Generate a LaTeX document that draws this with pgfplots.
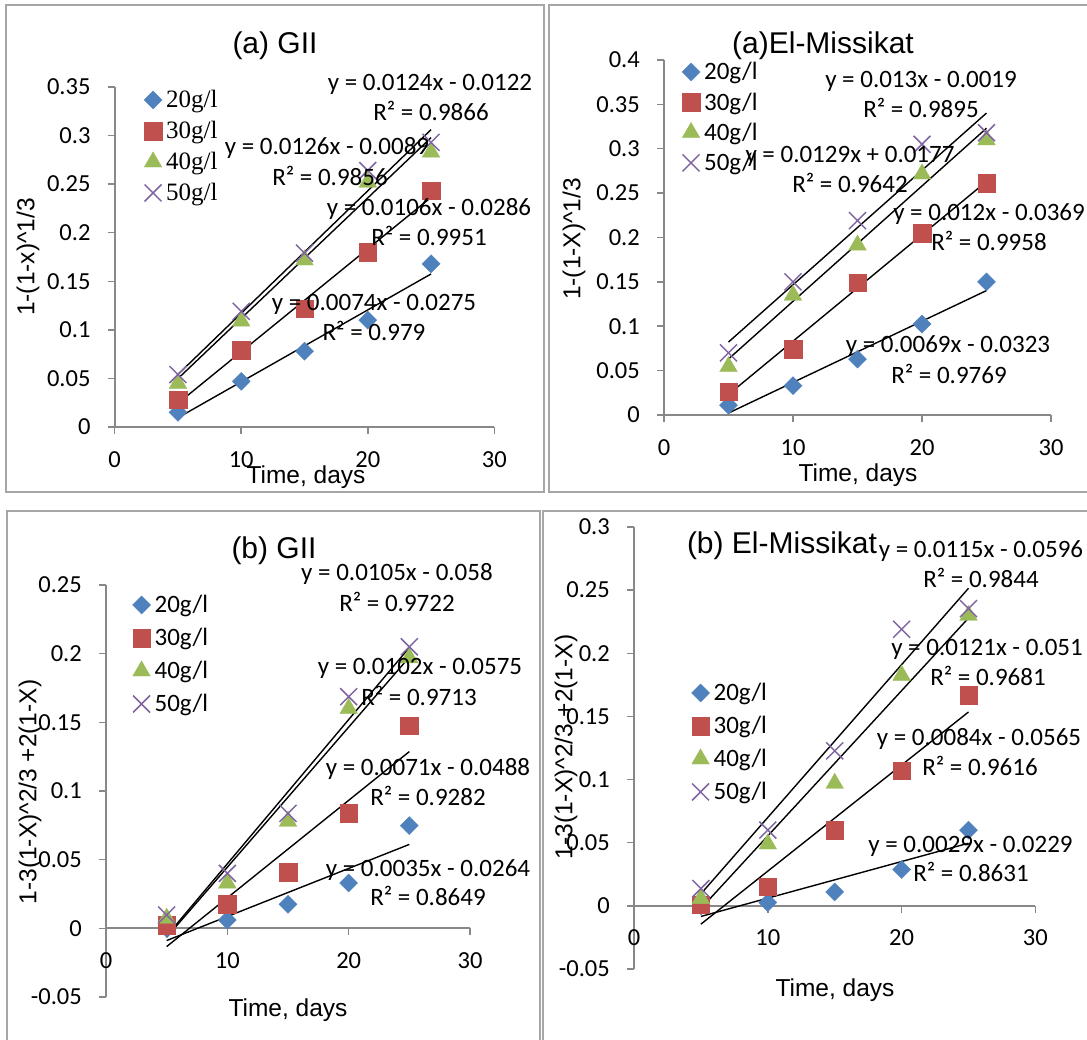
\documentclass[border=0pt]{standalone}
\usepackage{fontspec}
\setmainfont{Liberation Sans}
\newfontfamily\calf{Carlito}
\newfontfamily\tnr{Liberation Serif}
\usepackage{pgfplots}
\pgfplotsset{compat=1.18}
\definecolor{cblue}{HTML}{4F81BD}
\definecolor{cred}{HTML}{C0504D}
\definecolor{cgreen}{HTML}{9BBB59}
\definecolor{cpurple}{HTML}{8064A2}
\definecolor{axgray}{HTML}{888888}
\definecolor{frgray}{HTML}{A6A6A6}
\newcommand\eqf{\fontsize{25}{30}\calf}
\newcommand\ttf{\fontsize{30}{36}\selectfont}
\newcommand\laf{\fontsize{24.5}{29}\selectfont}
\pgfplotsset{
  panel/.style={
    scale only axis, clip=false,
    axis x line=middle, axis y line=left,
    axis line style={-, draw=axgray, line width=1.8pt},
    tick style={draw=axgray, line width=1.5pt},
    tick align=outside, major tick length=7pt,
    hide obscured x ticks=false, hide obscured y ticks=false,
    xmin=0, xmax=30, xtick={0,10,20,30}, xticklabels={0,10,20,30},
    ticklabel style={font=\fontsize{24.5}{29}\calf},
    xticklabel style={anchor=north, inner sep=0pt, yshift=-17pt},
    yticklabel style={anchor=east, inner sep=0pt, xshift=-17pt},
    legend cell align=left,
    legend image code/.code={\draw[##1] plot coordinates {(0pt,0pt)};},
    legend style={draw=none, fill=none, anchor=north west, inner sep=0pt, outer sep=0pt,
      column sep=4pt},
  },
  s20/.style={only marks, mark=square*, mark size=6.4pt, mark options={rotate=45, fill=cblue, draw=cblue, line width=0.3pt}},
  s30/.style={only marks, mark=square*, mark size=8.7pt, mark options={fill=cred, draw=cred, line width=0.3pt}},
  s40/.style={only marks, mark=triangle*, mark size=10.2pt, mark options={fill=cgreen, draw=cgreen, line width=0.3pt}},
  s50/.style={only marks, mark=x, mark size=12pt, mark options={draw=cpurple, line width=1.5pt}},
  trend/.style={black, line width=1.4pt, forget plot, no markers},
}
\begin{document}
\begin{tikzpicture}
\useasboundingbox (0,0) rectangle (1087pt,1040pt);
% panel frames
\draw[frgray, line width=1.6pt] (6pt,1035pt) rectangle (544pt,548pt);
\draw[frgray, line width=1.6pt] (549pt,1035pt) rectangle (1092pt,548pt);
\draw[frgray, line width=1.6pt] (7pt,529pt) rectangle (540pt,-8pt);
\draw[frgray, line width=1.6pt] (543pt,529pt) rectangle (1092pt,-8pt);

% ---------- Panel (a) GII ----------
\begin{axis}[panel, at={(114.7pt,613pt)}, anchor=south west, width=379.6pt, height=340pt,
  ymin=0, ymax=0.35, ytick={0,0.05,0.1,0.15,0.2,0.25,0.3,0.35},
  yticklabels={0,0.05,0.1,0.15,0.2,0.25,0.3,0.35},
  legend style={at={(0.0772,1.0074)}, font=\fontsize{25}{30}\tnr,
    nodes={inner sep=0pt, text height=23.4pt, text depth=7.6pt}}]
\addplot[s20] coordinates {(5,0.015)(10,0.047)(15,0.078)(20,0.110)(25,0.168)};
\addlegendentry{20g/l}
\addplot[s30] coordinates {(5,0.028)(10,0.079)(15,0.122)(20,0.180)(25,0.243)};
\addlegendentry{30g/l}
\addplot[s40] coordinates {(5,0.045)(10,0.109)(15,0.172)(20,0.252)(25,0.283)};
\addlegendentry{40g/l}
\addplot[s50] coordinates {(5,0.054)(10,0.119)(15,0.179)(20,0.264)(25,0.293)};
\addlegendentry{50g/l}
\addplot[trend] coordinates {(5,0.0095)(25,0.1575)};
\addplot[trend] coordinates {(5,0.0244)(25,0.2364)};
\addplot[trend] coordinates {(5,0.0498)(25,0.2978)};
\addplot[trend] coordinates {(5,0.0541)(25,0.3061)};
\end{axis}

% ---------- Panel (a) El-Missikat ----------
\begin{axis}[panel, at={(664pt,625pt)}, anchor=south west, width=387pt, height=355pt,
  ymin=0, ymax=0.4, ytick={0,0.05,0.1,0.15,0.2,0.25,0.3,0.35,0.4},
  yticklabels={0,0.05,0.1,0.15,0.2,0.25,0.3,0.35,0.4},
  legend style={at={(0.0465,1.0089)}, font=\fontsize{25}{30}\calf,
    nodes={inner sep=0pt, text height=23pt, text depth=7.3pt}}]
\addplot[s20] coordinates {(5,0.011)(10,0.033)(15,0.063)(20,0.1025)(25,0.150)};
\addlegendentry{20g/l}
\addplot[s30] coordinates {(5,0.026)(10,0.074)(15,0.149)(20,0.205)(25,0.261)};
\addlegendentry{30g/l}
\addplot[s40] coordinates {(5,0.0545)(10,0.135)(15,0.1915)(20,0.2716)(25,0.310)};
\addlegendentry{40g/l}
\addplot[s50] coordinates {(5,0.070)(10,0.150)(15,0.219)(20,0.305)(25,0.318)};
\addlegendentry{50g/l}
\addplot[trend] coordinates {(5,0.0022)(25,0.1402)};
\addplot[trend] coordinates {(5,0.0231)(25,0.2631)};
\addplot[trend] coordinates {(5,0.0631)(25,0.3231)};
\addplot[trend] coordinates {(5,0.0822)(25,0.3402)};
\end{axis}

% ---------- Panel (b) GII ----------
\begin{axis}[panel, at={(106pt,43pt)}, anchor=south west, width=364pt, height=412pt,
  ymin=-0.05, ymax=0.25, ytick={-0.05,0,0.05,0.1,0.15,0.2,0.25},
  yticklabels={-0.05,0,0.05,0.1,0.15,0.2,0.25},
  legend style={at={(0.0728,0.9915)}, font=\fontsize{25}{30}\calf,
    nodes={inner sep=0pt, text height=24.4pt, text depth=8.6pt}}]
\addplot[s20] coordinates {(5,0.0)(10,0.006)(15,0.0175)(20,0.033)(25,0.0748)};
\addlegendentry{20g/l}
\addplot[s30] coordinates {(5,0.0024)(10,0.0175)(15,0.041)(20,0.084)(25,0.1476)};
\addlegendentry{30g/l}
\addplot[s40] coordinates {(5,0.0073)(10,0.033)(15,0.078)(20,0.160)(25,0.197)};
\addlegendentry{40g/l}
\addplot[s50] coordinates {(5,0.0097)(10,0.040)(15,0.0837)(20,0.1687)(25,0.205)};
\addlegendentry{50g/l}
\addplot[trend] coordinates {(5,-0.0089)(25,0.0611)};
\addplot[trend] coordinates {(5,-0.0133)(25,0.1287)};
\addplot[trend] coordinates {(5,-0.0065)(25,0.1975)};
\addplot[trend] coordinates {(5,-0.0055)(25,0.2045)};
\end{axis}

% ---------- Panel (b) El-Missikat ----------
\begin{axis}[panel, at={(634pt,71pt)}, anchor=south west, width=401.4pt, height=442pt,
  ymin=-0.05, ymax=0.3, ytick={-0.05,0,0.05,0.1,0.15,0.2,0.25,0.3},
  yticklabels={-0.05,0,0.05,0.1,0.15,0.2,0.25,0.3},
  legend style={at={(0.1432,0.6618)}, font=\fontsize{25}{30}\calf,
    nodes={inner sep=0pt, text height=24.4pt, text depth=8.6pt}}]
\addplot[s20] coordinates {(5,0.0)(10,0.0026)(15,0.011)(20,0.0288)(25,0.060)};
\addlegendentry{20g/l}
\addplot[s30] coordinates {(5,0.001)(10,0.015)(15,0.060)(20,0.107)(25,0.1667)};
\addlegendentry{30g/l}
\addplot[s40] coordinates {(5,0.0058)(10,0.049)(15,0.097)(20,0.1826)(25,0.230)};
\addlegendentry{40g/l}
\addplot[s50] coordinates {(5,0.0137)(10,0.060)(15,0.1227)(20,0.219)(25,0.2354)};
\addlegendentry{50g/l}
\addplot[trend] coordinates {(5,-0.0084)(25,0.0496)};
\addplot[trend] coordinates {(5,-0.0145)(25,0.1535)};
\addplot[trend] coordinates {(5,-0.0021)(25,0.2279)};
\addplot[trend] coordinates {(5,0.0095)(25,0.2515)};
\end{axis}

% ---------- texts panel 1 ----------
\node[anchor=base, font=\ttf, inner sep=0pt] at (275pt,986pt) {(a) GII};
\node[anchor=base, font=\laf, inner sep=0pt] at (306pt,556pt) {Time, days};
\node[rotate=90, font=\laf, inner sep=0pt] at (28pt,783pt) {1-(1-x)\textasciicircum 1/3};
\begin{scope}[every node/.style={anchor=base, font=\eqf, inner sep=0pt}]
\node at (430pt,949pt) {y = 0.0124x - 0.0122};
\node at (431pt,919pt) {R² = 0.9866};
\node at (327pt,885pt) {y = 0.0126x - 0.0089};
\node at (330pt,854pt) {R² = 0.9856};
\node at (429pt,824pt) {y = 0.0106x - 0.0286};
\node at (429pt,794pt) {R² = 0.9951};
\node at (374pt,729pt) {y = 0.0074x - 0.0275};
\node at (374pt,699pt) {R² = 0.979};
\end{scope}

% ---------- texts panel 2 ----------
\node[anchor=base, font=\ttf, inner sep=0pt] at (823pt,986pt) {(a)El-Missikat};
\node[anchor=base, font=\laf, inner sep=0pt] at (858pt,558pt) {Time, days};
\node[rotate=90, font=\laf, inner sep=0pt] at (574pt,801pt) {1-(1-X)\textasciicircum 1/3};
\begin{scope}[every node/.style={anchor=base, font=\eqf, inner sep=0pt}]
\node at (921pt,952pt) {y = 0.013x - 0.0019};
\node at (921pt,922pt) {R² = 0.9895};
\node at (850pt,877pt) {y = 0.0129x + 0.0177};
\node at (850pt,847pt) {R² = 0.9642};
\node at (989pt,819pt) {y = 0.012x - 0.0369};
\node at (989pt,789pt) {R² = 0.9958};
\node at (948pt,687pt) {y = 0.0069x - 0.0323};
\node at (949pt,656pt) {R² = 0.9769};
\end{scope}

% ---------- texts panel 3 ----------
\node[anchor=base, font=\ttf, inner sep=0pt] at (274pt,481pt) {(b) GII};
\node[anchor=base, font=\laf, inner sep=0pt] at (288pt,23pt) {Time, days};
\node[rotate=90, font=\laf, inner sep=0pt] at (30pt,248pt) {1-3(1-X)\textasciicircum 2/3 +2(1-X)};
\begin{scope}[every node/.style={anchor=base, font=\eqf, inner sep=0pt}]
\node at (397pt,459pt) {y = 0.0105x - 0.058};
\node at (397pt,428pt) {R² = 0.9722};
\node at (420pt,365pt) {y = 0.0102x - 0.0575};
\node at (419pt,334pt) {R² = 0.9713};
\node at (428pt,264pt) {y = 0.0071x - 0.0488};
\node at (428pt,234pt) {R² = 0.9282};
\node at (428pt,163pt) {y = 0.0035x - 0.0264};
\node at (428pt,134pt) {R² = 0.8649};
\end{scope}

% ---------- texts panel 4 ----------
\node[anchor=base, font=\ttf, inner sep=0pt] at (782pt,486pt) {(b) El-Missikat};
\node[anchor=base, font=\laf, inner sep=0pt] at (835pt,43pt) {Time, days};
\node[rotate=90, font=\laf, inner sep=0pt] at (566pt,293pt) {1-3(1-X)\textasciicircum 2/3 +2(1-X)};
\begin{scope}[every node/.style={anchor=base, font=\eqf, inner sep=0pt}]
\node at (981pt,482pt) {y = 0.0115x - 0.0596};
\node at (981pt,452pt) {R² = 0.9844};
\node at (987pt,384pt) {y = 0.0121x - 0.051};
\node at (988pt,354pt) {R² = 0.9681};
\node at (979pt,294pt) {y = 0.0084x - 0.0565};
\node at (980pt,264pt) {R² = 0.9616};
\node at (970.5pt,187pt) {y = 0.0029x - 0.0229};
\node at (971pt,158pt) {R² = 0.8631};
\end{scope}
\end{tikzpicture}
\end{document}
